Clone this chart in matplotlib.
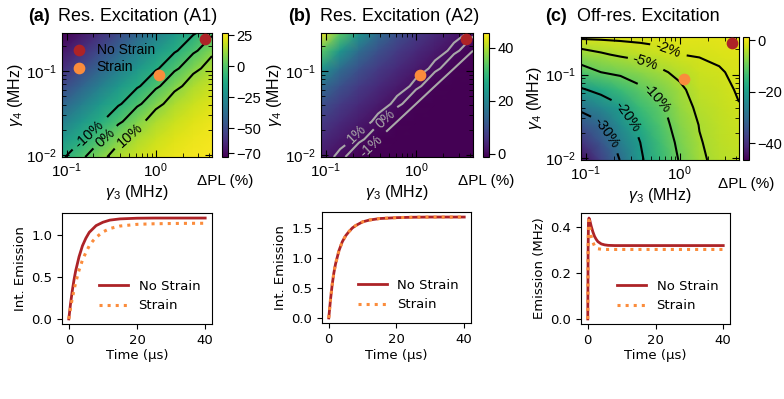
import numpy as np
import matplotlib
matplotlib.use('Agg')
import matplotlib.pyplot as plt

plt.rcParams['mathtext.fontset'] = 'custom'
plt.rcParams['mathtext.rm'] = 'Liberation Sans'
plt.rcParams['mathtext.it'] = 'Liberation Sans:italic'
plt.rcParams['mathtext.bf'] = 'Liberation Sans:bold'
plt.rcParams['contour.negative_linestyle'] = 'solid'

# ---- data ----
# rate grids (MHz)
g3 = [0.089, 0.145, 0.234, 0.380, 0.617, 1.0, 1.62, 2.63, 4.27]
g4 = [0.00955, 0.0155, 0.0251, 0.0407, 0.0661, 0.107, 0.174, 0.282]

# operating points
pt_nostrain = (3.6, 0.24)
pt_strain = (1.1, 0.089)

# dPL maps (%), rows = g4 (bottom to top), cols = g3
dpl_a = [[-11.3, -1.8, 7.5, 14.5, 19, 22, 24, 25.2, 26],
         [-20, -11.3, -1.8, 7.5, 14.5, 19, 22, 24, 25.2],
         [-30.5, -20, -11.3, -1.8, 7.5, 14.5, 19, 22, 24],
         [-41, -30.5, -20, -11.3, -1.8, 7.5, 14.5, 19, 22],
         [-51, -41, -30.5, -20, -11.3, -1.8, 7.5, 14.5, 19],
         [-60, -51, -41, -30.5, -20, -11.3, -1.8, 7.5, 14.5],
         [-67, -60, -51, -41, -30.5, -20, -11.3, -1.8, 7.5],
         [-73, -67, -60, -51, -41, -30.5, -20, -11.3, -1.8]]

dpl_b = [[2.1, 0.3, -1.0, -1.15, -1.2, -1.3, -1.3, -1.3, -1.3],
         [4.3, 2.1, 0.3, -1.0, -1.15, -1.2, -1.3, -1.3, -1.3],
         [6.9, 4.3, 2.1, 0.3, -1.0, -1.15, -1.2, -1.3, -1.3],
         [10.3, 6.9, 4.3, 2.1, 0.3, -1.0, -1.15, -1.2, -1.3],
         [15.3, 10.3, 6.9, 4.3, 2.1, 0.3, -1.0, -1.15, -1.2],
         [23.2, 15.3, 10.3, 6.9, 4.3, 2.1, 0.3, -1.0, -1.15],
         [33.5, 23.2, 15.3, 10.3, 6.9, 4.3, 2.1, 0.3, -1.0],
         [45, 33.5, 23.2, 15.3, 10.3, 6.9, 4.3, 2.1, 0.3]]

dpl_c = [[-45, -37.3, -29.6, -20.8, -14.9, -9.5, -5.5, -4.0, -3.3],
         [-39.6, -33.8, -26.4, -20.0, -13.5, -8.5, -5.2, -3.7, -2.9],
         [-34.1, -30.3, -23.3, -17.0, -12.0, -7.5, -4.85, -3.4, -2.5],
         [-28.2, -24.3, -20.15, -13.9, -10.6, -6.5, -4.1, -3.1, -2.1],
         [-20.7, -17.8, -14.1, -10.7, -8.4, -5.6, -3.35, -2.7, -1.7],
         [-12.1, -10.0, -8.6, -7.2, -5.5, -4.1, -2.6, -2.2, -1.4],
         [-6.4, -5.4, -4.4, -3.5, -2.7, -2.0, -1.85, -1.5, -1.0],
         [-1.3, -1.2, -1.1, -1.05, -1.0, -0.9, -0.8, -0.7, -0.55]]

# time traces
t_ab = [0, 0.5, 1, 1.5, 2, 3, 4, 5, 6, 7, 8, 10, 12, 15, 20, 25, 30, 35, 40]
a_nostrain = [0, 0.18, 0.33, 0.46, 0.57, 0.74, 0.87, 0.96, 1.03, 1.07, 1.11,
              1.15, 1.175, 1.19, 1.198, 1.2, 1.2, 1.2, 1.2]
a_strain = [0, 0.13, 0.24, 0.34, 0.43, 0.58, 0.70, 0.79, 0.87, 0.925, 0.97,
            1.035, 1.075, 1.105, 1.125, 1.132, 1.135, 1.137, 1.138]
b_nostrain = [0, 0.30, 0.55, 0.75, 0.90, 1.12, 1.27, 1.37, 1.44, 1.50, 1.54,
              1.60, 1.63, 1.655, 1.67, 1.677, 1.68, 1.68, 1.68]
b_strain = [0, 0.30, 0.55, 0.75, 0.90, 1.12, 1.27, 1.37, 1.44, 1.50, 1.54,
            1.60, 1.63, 1.655, 1.67, 1.677, 1.68, 1.68, 1.68]
t_c = [0, 0.1, 0.2, 0.35, 0.6, 1, 1.5, 2, 2.5, 3, 4, 5, 6, 8, 10, 20, 30, 40]
c_nostrain = [0, 0.30, 0.42, 0.44, 0.43, 0.405, 0.38, 0.36, 0.347, 0.337,
              0.327, 0.323, 0.321, 0.32, 0.32, 0.32, 0.32, 0.32]
c_strain = [0, 0.30, 0.41, 0.43, 0.40, 0.36, 0.335, 0.318, 0.31, 0.306,
            0.304, 0.303, 0.303, 0.303, 0.303, 0.303, 0.303, 0.303]

RED = '#ad2327'
ORANGE = '#fb8c3c'
HFONT = 'Liberation Sans'

W, H = 784, 399
fig = plt.figure(figsize=(W / 100, H / 100), dpi=100)


def px_axes(l, t, r, b):
    return fig.add_axes([l / W, 1 - b / H, (r - l) / W, (b - t) / H])


def heat(box, cbox, z, vmin, vmax, ticks, levels, fmt, manual, ccol,
         legend=False):
    ax = px_axes(*box)
    cax = px_axes(*cbox)
    ax.set_xscale('log')
    ax.set_yscale('log')
    ax.set_xlim(g3[0], g3[-1])
    ax.set_ylim(g4[0], g4[-1])
    z = np.array(z)
    mesh = ax.pcolormesh(g3, g4, z, shading='gouraud', cmap='viridis',
                         vmin=vmin, vmax=vmax)
    cs = ax.contour(g3, g4, z, levels=levels, colors=ccol, linewidths=1.5)
    lab = ax.clabel(cs, fmt=fmt, manual=manual, inline=True, fontsize=10.5)
    for tx in lab:
        tx.set_family(HFONT)
    ax.scatter(*pt_nostrain, s=55, color=RED, zorder=5, label='No Strain',
               clip_on=False)
    ax.scatter(*pt_strain, s=55, color=ORANGE, zorder=5, label='Strain')
    if legend:
        ax.legend(loc='upper left', frameon=False, handlelength=1.0,
                  borderaxespad=0.3, labelspacing=0.25, handletextpad=0.8,
                  prop={'family': HFONT, 'size': 10})
    ax.tick_params(which='both', direction='in', top=True, right=True,
                   labelsize=11)
    ax.tick_params(which='major', length=5)
    ax.tick_params(which='minor', length=3)
    for tl in ax.get_xticklabels() + ax.get_yticklabels():
        tl.set_family(HFONT)
    ax.set_xlabel(r'$\gamma_3$ (MHz)', fontsize=11.5, family=HFONT,
                  labelpad=2)
    ax.set_ylabel(r'$\gamma_4$ (MHz)', fontsize=11.5, family=HFONT,
                  labelpad=1)
    cb = fig.colorbar(mesh, cax=cax, ticks=ticks)
    cb.ax.tick_params(labelsize=10.5, length=4, pad=2)
    for tl in cb.ax.get_yticklabels():
        tl.set_family(HFONT)
    cb.ax.set_xlabel('ΔPL (%)', fontsize=11, family=HFONT, labelpad=12)
    return ax


def trace(box, t, y1, y2, ylabel):
    ax = px_axes(*box)
    ax.plot(t, y1, color=RED, lw=2, label='No Strain')
    ax.plot(t, y2, color=ORANGE, lw=2.2, ls=':', label='Strain')
    ax.set_xticks([0, 20, 40])
    ax.tick_params(labelsize=9.5)
    ax.set_xlabel('Time (μs)', fontsize=9.5, labelpad=2)
    ax.set_ylabel(ylabel, fontsize=9.5, labelpad=3)
    ax.legend(loc='lower right', frameon=False, fontsize=9.5,
              handlelength=2.2)
    return ax


heat((62, 33, 212, 157), (222, 33, 228, 157), dpl_a, -73, 27,
     [-70, -50, -25, 0, 25], [-10, 0, 10],
     {-10: '-10%', 0: '0%', 10: '10%'},
     [(0.185, 0.0173), (0.26, 0.0166), (0.47, 0.019)], 'k', legend=True)

heat((321, 33, 473, 157), (483, 33, 489, 157), dpl_b, -1.3, 45.5,
     [0, 20, 40], [-1, 0, 1],
     {-1: '-1%', 0: '0%', 1: '1%'},
     [(0.204, 0.019), (0.457, 0.0272), (0.326, 0.0126)], '#a8a8a8')

heat((581, 37, 739, 160), (743, 37, 749, 160), dpl_c, -46.5, 1.3,
     [-40, -20, 0], [-30, -20, -10, -5, -2],
     {-30: '-30%', -20: '-20%', -10: '-10%', -5: '-5%', -2: '-2%'},
     [(0.166, 0.020), (0.295, 0.0328), (0.59, 0.0557), (0.43, 0.139),
      (0.72, 0.186)], 'k')

trace((62, 213, 212, 324), t_ab, a_nostrain, a_strain, 'Int. Emission')
trace((322, 212, 471, 323), t_ab, b_nostrain, b_strain, 'Int. Emission')
trace((581, 213, 730, 324), t_c, c_nostrain, c_strain, 'Emission (MHz)')

titles = [(28, 58, '(a)', 'Res. Excitation (A1)'),
          (288, 320, '(b)', 'Res. Excitation (A2)'),
          (545, 577, '(c)', 'Off-res. Excitation')]
for xl, xt, tag, name in titles:
    fig.text(xl / W, 1 - 21 / H, tag, fontsize=13, fontweight='bold',
             family=HFONT, va='baseline')
    fig.text(xt / W, 1 - 21 / H, name, fontsize=13, family=HFONT,
             va='baseline')

fig.savefig('out.png', dpi=100)
